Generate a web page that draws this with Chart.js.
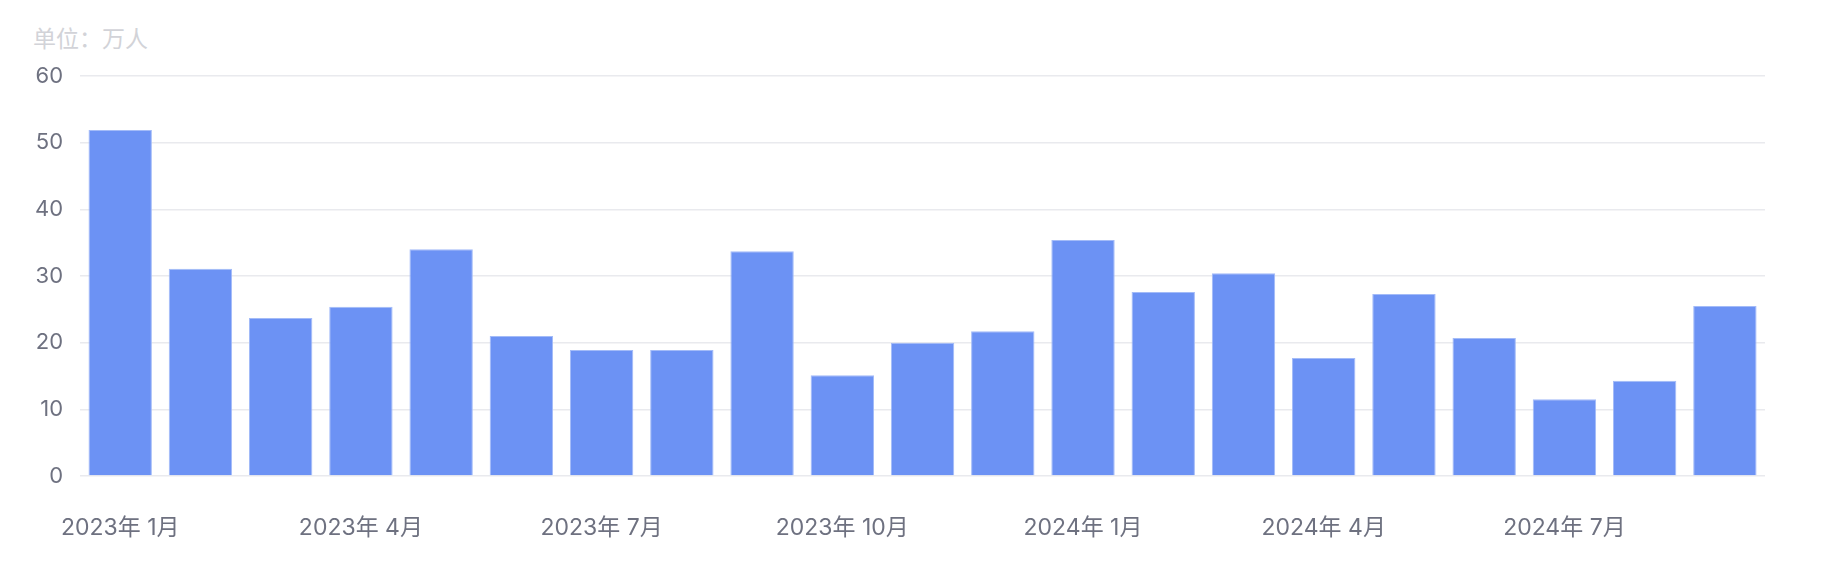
<!DOCTYPE html>
<html>
<head>
<meta charset="utf-8">
<script src="https://cdn.jsdelivr.net/npm/chart.js@4/dist/chart.umd.min.js"></script>
<style>
  html, body { margin: 0; padding: 0; background: #ffffff; }
  #wrap { position: relative; width: 1827px; height: 567px; }
  #unit { position: absolute; left: 33px; top: 22px; font: 23px "Noto Sans CJK SC", sans-serif; color: #d2d3d8; line-height: 30px; white-space: nowrap; }
  canvas { position: absolute; left: 0; top: 0; }
</style>
</head>
<body>
<div id="wrap">
  <div id="unit">单位：万人</div>
  <canvas id="c" width="1827" height="567"></canvas>
</div>
<script>
const categories = [
  "2023年 1月","2023年 2月","2023年 3月","2023年 4月","2023年 5月","2023年 6月",
  "2023年 7月","2023年 8月","2023年 9月","2023年 10月","2023年 11月","2023年 12月",
  "2024年 1月","2024年 2月","2024年 3月","2024年 4月","2024年 5月","2024年 6月",
  "2024年 7月","2024年 8月","2024年 9月"
];
const values = [51.9, 31.1, 23.7, 25.4, 34.0, 21.0, 18.9, 18.9, 33.7, 15.1, 20.0, 21.7,
                35.4, 27.6, 30.4, 17.7, 27.3, 20.7, 11.5, 14.3, 25.5];
const yTicks = [0, 10, 20, 30, 40, 50, 60];
const labelEvery = 3;

const font = 'Inter, "Noto Sans CJK SC", sans-serif';

new Chart(document.getElementById('c'), {
  type: 'bar',
  data: {
    labels: categories,
    datasets: [{
      data: values,
      backgroundColor: '#6c92f4',
      borderColor: '#a3bbf8',
      borderWidth: 1,
      borderSkipped: 'bottom',
      barPercentage: 0.79,
      categoryPercentage: 1.0
    }]
  },
  options: {
    responsive: false,
    animation: false,
    devicePixelRatio: 1,
    layout: { padding: { top: 76, right: 62, bottom: 0, left: 18 } },
    plugins: { legend: { display: false }, title: { display: false }, tooltip: { enabled: false } },
    scales: {
      x: {
        grid: { display: false, drawTicks: false },
        border: { display: false },
        ticks: {
          autoSkip: false,
          maxRotation: 0,
          minRotation: 0,
          padding: 38,
          color: '#6e7180',
          font: { family: font, size: 23 },
          callback: function(v, i) { return i % labelEvery === 0 ? categories[i] : ''; }
        },
        afterFit: function(axis) { axis.height = 91; }
      },
      y: {
        min: yTicks[0],
        max: yTicks[yTicks.length - 1],
        afterBuildTicks: function(axis) { axis.ticks = yTicks.map(v => ({ value: v })); },
        grid: { color: '#e9eaee', lineWidth: 1.5, drawTicks: false },
        border: { display: false },
        ticks: {
          padding: 17,
          color: '#6e7180',
          font: { family: font, size: 22 }
        }
      }
    }
  }
});
</script>
</body>
</html>
